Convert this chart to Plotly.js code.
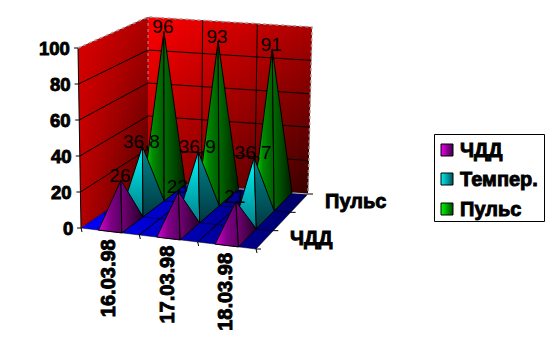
<!DOCTYPE html>
<html><head><meta charset="utf-8">
<script src="https://cdn.plot.ly/plotly-3.0.1.min.js"></script>
<style>html,body{margin:0;padding:0;background:#fff}#c{width:554px;height:355px}
.annotation-text{stroke:#000;stroke-width:.9px}</style>
</head><body><div id="c"></div>
<script>
const categories = ['16.03.98','17.03.98','18.03.98'];
const seriesNames = ['ЧДД','Темпер.','Пульс'];
const chdd = [26,23,21];
const temper = [36.8,36.9,36.7];
const puls = [96,93,91];
const valueTicks = [0,20,40,60,80,100];
const depthLabels = ['ЧДД','Пульс'];
const allValues = [chdd,temper,puls];

// oblique chart frame: floor corners and the wall height in screen pixels
const FL=[81,228],FR=[256,249],BR=[308,194],BL=[148,182];
const K=1.67;
function floorPt(u,v){
  const a=[FL[0]+(FR[0]-FL[0])*u,FL[1]+(FR[1]-FL[1])*u];
  const b=[BL[0]+(BR[0]-BL[0])*u,BL[1]+(BR[1]-BL[1])*u];
  return [a[0]+(b[0]-a[0])*v,a[1]+(b[1]-a[1])*v];
}
function wallPt(u,val){ // back wall
  const x0=floorPt(u,1);
  const top=[148+(312-148)*u,17+(27-17)*u];
  return [x0[0]+(top[0]-x0[0])*val/100,x0[1]+(top[1]-x0[1])*val/100];
}
function sidePt(v,val){ // left wall
  const x0=floorPt(0,v);
  const top=[78+(148-78)*v,48+(17-48)*v];
  return [x0[0]+(top[0]-x0[0])*val/100,x0[1]+(top[1]-x0[1])*val/100];
}
const traces=[];
function poly(pts,extra){
  const xs=pts.map(p=>p[0]),ys=pts.map(p=>p[1]);
  traces.push(Object.assign({type:'scatter',mode:'lines',x:xs.concat(xs[0]),y:ys.concat(ys[0]),fill:'toself',
    showlegend:false,hoverinfo:'skip',line:{color:'#000',width:1}},extra));
}
function line(pts,color,width,dash){
  traces.push({type:'scatter',mode:'lines',x:pts.map(p=>p[0]),y:pts.map(p=>p[1]),showlegend:false,hoverinfo:'skip',
    line:{color:color,width:width||1,dash:dash||'solid'}});
}
function red(r){return 'rgb('+Math.round(r)+',0,0)';}
function grad(type,cols){
  const n=cols.length-1;
  return {type:type,colorscale:cols.map((c,i)=>[i/n,c])};
}
// y axis runs downward, so a "vertical" scale is listed bottom colour first
function vgrad(top,bottom){return grad('vertical',[bottom,top]);}

// walls, drawn as overlapping vertical strips with a shading gradient
const N=16;
for(let i=0;i<N;i++){
  const a=i/N,b=Math.min(1,(i+2)/N),m=(i+.5)/N;
  const d=[sidePt(a,100),sidePt(b,100),sidePt(b,0),sidePt(a,0)];
  poly(d,{fillgradient:vgrad(red(215-40*m),red(180-100*m)),line:{width:0,color:'#000'}});
}
for(let i=0;i<N;i++){
  const a=i/N,b=Math.min(1,(i+2)/N),m=(i+.5)/N;
  const c=[wallPt(a,100),wallPt(b,100),wallPt(b,0),wallPt(a,0)];
  poly(c,{fillgradient:vgrad(red(255-85*m),red(170-115*m)),line:{width:0,color:'#000'}});
}
// gridlines
[20,40,60,80].forEach(t=>{
  line([sidePt(0,t),sidePt(1,t),wallPt(1,t)],'#000',1);
});
[1/3,2/3].forEach(u=>line([wallPt(u,100),wallPt(u,0)],'#000',1));
line([sidePt(0,0),sidePt(0,100)],'#000',1);
line([sidePt(0,100),sidePt(1,100),wallPt(1,100),wallPt(1,0)],'#9a9a9a',1.5,'dot');
line([sidePt(1,100),sidePt(1,62)],'#9a9a9a',1,'dot');

// floor
poly([FL,FR,BR,BL],{fillgradient:grad('horizontal',['rgb(0,0,255)','rgb(0,0,95)']),line:{color:'#000',width:0.5}});
[1/3,2/3].forEach(u=>line([floorPt(u,0),floorPt(u,1)],'#000',1));
[1/3,2/3].forEach(v=>line([floorPt(0,v),floorPt(1,v)],'#000',0.6));
line([floorPt(0,1),floorPt(1,1)],'#bdbdbd',1);

// ticks
[0,1/3,2/3,1].forEach(u=>{const p=floorPt(u,0);line([p,[p[0]+1,p[1]+4]],'#000',1);});
[0,1/3,2/3,1].forEach(v=>{const p=floorPt(1,v);line([p,[p[0]+5,p[1]]],'#000',1);});
valueTicks.forEach(t=>{const p=sidePt(0,t);line([[p[0]-4,p[1]],p],'#000',1);});

// pyramids: back row first
const styles=[
 {l:grad('horizontal',['rgb(215,0,215)','rgb(130,0,135)','rgb(90,0,100)']),r:grad('horizontal',['rgb(120,0,120)','rgb(35,0,40)'])},
 {l:vgrad('rgb(0,250,250)','rgb(0,125,135)'),r:vgrad('rgb(0,135,140)','rgb(0,55,65)')},
 {l:grad('horizontal',['rgb(0,255,0)','rgb(0,135,0)','rgb(0,90,0)']),r:grad('horizontal',['rgb(0,110,0)','rgb(0,30,0)'])}
];
const HW=0.0667,HD=1/6;
const labelsX=[],labelsY=[],labelsT=[];
for(let s=2;s>=0;s--){
  for(let c=2;c>=0;c--){
    const v=allValues[s][c];
    const uc=(c+.5)/3,vc=(s+.5)/3;
    const base=floorPt(uc,vc);
    const apex=[base[0],base[1]-v*K];
    const L=floorPt(uc-HW,vc-HD),F=floorPt(uc+HW,vc-HD),R=floorPt(uc+HW,vc+HD);
    const st=styles[s];
    poly([L,F,apex],{fillgradient:st.l});
    poly([F,R,apex],{fillgradient:st.r});
    labelsX.push(apex[0]-1);labelsY.push(apex[1]-3);labelsT.push(String(v).replace('.',','));
  }
}
traces.push({type:'scatter',mode:'text',x:labelsX,y:labelsY,text:labelsT,textposition:'middle center',
  textfont:{family:'Liberation Sans',size:19,color:'#000'},showlegend:false,hoverinfo:'skip'});

// legend drawn inside a framed box
const legendCols=[['rgb(235,0,235)','rgb(60,0,70)'],['rgb(0,240,240)','rgb(0,80,90)'],['rgb(0,255,0)','rgb(0,70,0)']];
const legendRows=[150,179,209];
seriesNames.forEach((n,i)=>{
  traces.push({type:'scatter',mode:'markers',x:[447],y:[legendRows[i]],name:n,showlegend:false,hoverinfo:'skip',
    marker:{symbol:'square',size:12,color:legendCols[i][0],gradient:{type:'horizontal',color:legendCols[i][1]},line:{color:'#000',width:1}}});
});

// axis texts
const bold={family:'Liberation Sans',size:18.5,color:'#000',weight:700};
const big={family:'Liberation Sans',size:20,color:'#000',weight:700};
const annotations=[];
valueTicks.forEach(t=>{const p=sidePt(0,t);
  annotations.push({x:p[0]-7,y:p[1],xref:'x',yref:'y',text:'<b>'+t+'</b>',showarrow:false,xanchor:'right',yanchor:'middle',font:bold,borderpad:0});});
categories.forEach((t,i)=>{const p=floorPt((i+.5)/3,0);
  annotations.push({x:p[0]-2,y:p[1]+46.5,xref:'x',yref:'y',text:'<b>'+t+'</b>',showarrow:false,textangle:-90,font:big,borderpad:0});});
const depthXY=[[311,238],[355,201]];
depthLabels.forEach((t,i)=>{
  annotations.push({x:depthXY[i][0],y:depthXY[i][1],xref:'x',yref:'y',text:'<b>'+t+'</b>',showarrow:false,font:big,borderpad:0});});
seriesNames.forEach((n,i)=>{
  annotations.push({x:459,y:legendRows[i],xref:'x',yref:'y',text:'<b>'+n+'</b>',showarrow:false,xanchor:'left',font:big,borderpad:0});});

Plotly.newPlot('c',traces,{
  width:554,height:355,margin:{l:0,r:0,t:0,b:0},paper_bgcolor:'#fff',plot_bgcolor:'#fff',
  xaxis:{range:[0,554],visible:false,fixedrange:true},
  yaxis:{range:[355,0],visible:false,fixedrange:true},
  annotations:annotations,
  shapes:[{type:'rect',xref:'x',yref:'y',x0:434.5,x1:544.5,y0:134.5,y1:221.5,line:{color:'#000',width:1},fillcolor:'rgba(0,0,0,0)'}],
  showlegend:false
},{staticPlot:true,displayModeBar:false});
</script></body></html>
